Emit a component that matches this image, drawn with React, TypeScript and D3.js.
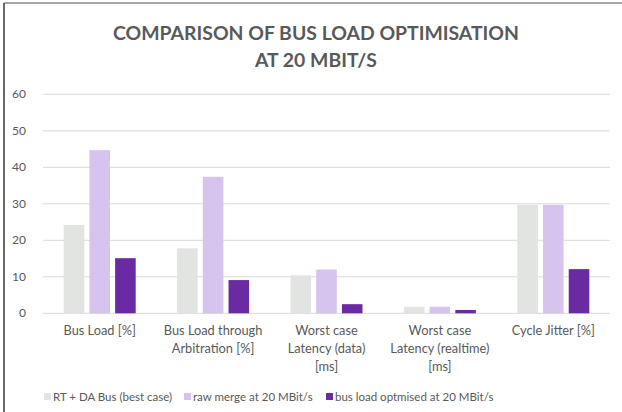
import React from "react";
import * as d3 from "d3";

const categories: string[][] = [
  ["Bus Load [%]"],
  ["Bus Load through", "Arbitration [%]"],
  ["Worst case", "Latency (data)", "[ms]"],
  ["Worst case", "Latency (realtime)", "[ms]"],
  ["Cycle Jitter [%]"],
];
const seriesNames = [
  "RT + DA Bus (best case)",
  "raw merge at 20 MBit/s",
  "bus load optmised at 20 MBit/s",
];
const rtDaBus = [24.2, 17.8, 10.4, 1.8, 29.7];
const rawMerge = [44.7, 37.4, 12.0, 1.8, 29.7];
const optimised = [15.1, 9.1, 2.5, 0.9, 12.1];
const yTicks = [0, 10, 20, 30, 40, 50, 60];
const colors = ["#e1e4e1", "#d6c3ee", "#6a2aa2"];

const W = 622;
const H = 412;
const font = "Lato, 'Open Sans', sans-serif";

export default function App() {
  const values = [rtDaBus, rawMerge, optimised];
  const x0 = d3
    .scaleBand<number>()
    .domain(categories.map((_, i) => i))
    .range([43, 610]);
  const y = d3.scaleLinear().domain([0, 60]).range([313.3, 94.3]);
  const x1 = d3
    .scaleBand<number>()
    .domain([0, 1, 2])
    .range([-36, 36])
    .paddingInner(0.2);

  const legendX = [44, 184, 326];

  return (
    <div style={{ position: "fixed", left: 0, top: 0 }}>
      <svg width={W} height={H} style={{ display: "block", background: "#fff" }}>
        <line x1={4} y1={3} x2={W} y2={3} stroke="#8a8a8a" strokeWidth={1.5} />
        <line x1={4} y1={3} x2={4} y2={H} stroke="#3a3a3a" strokeWidth={1.5} />
        <text
          x={316}
          y={40}
          textAnchor="middle"
          fontFamily={font}
          fontWeight="bold"
          fontSize={19.4}
          fill="#595959"
        >
          COMPARISON OF BUS LOAD OPTIMISATION
        </text>
        <text
          x={316}
          y={67}
          textAnchor="middle"
          fontFamily={font}
          fontWeight="bold"
          fontSize={19.4}
          fill="#595959"
        >
          AT 20 MBIT/S
        </text>
        {yTicks.map((t) => (
          <g key={t}>
            <line x1={43} x2={610} y1={y(t)} y2={y(t)} stroke="#d9d9d9" strokeWidth={1} />
            <text
              x={26}
              y={y(t) + 4}
              textAnchor="end"
              fontFamily={font}
              fontSize={12}
              fill="#595959"
            >
              {t}
            </text>
          </g>
        ))}
        {categories.map((cat, ci) => {
          const cx = (x0(ci) as number) + x0.bandwidth() / 2;
          return (
            <g key={ci}>
              {values.map((vals, si) => (
                <rect
                  key={si}
                  x={cx + (x1(si) as number)}
                  y={y(vals[ci])}
                  width={x1.bandwidth()}
                  height={y(0) - y(vals[ci])}
                  fill={colors[si]}
                />
              ))}
              {cat.map((line, li) => (
                <text
                  key={li}
                  x={cx}
                  y={335 + li * 18}
                  textAnchor="middle"
                  fontFamily={font}
                  fontSize={12.8}
                  fill="#595959"
                >
                  {line}
                </text>
              ))}
            </g>
          );
        })}
        {seriesNames.map((name, si) => (
          <g key={si}>
            <rect x={legendX[si]} y={393} width={7} height={7} fill={colors[si]} />
            <text
              x={legendX[si] + 9}
              y={401}
              fontFamily={font}
              fontSize={11.5}
              fill="#595959"
            >
              {name}
            </text>
          </g>
        ))}
      </svg>
    </div>
  );
}
